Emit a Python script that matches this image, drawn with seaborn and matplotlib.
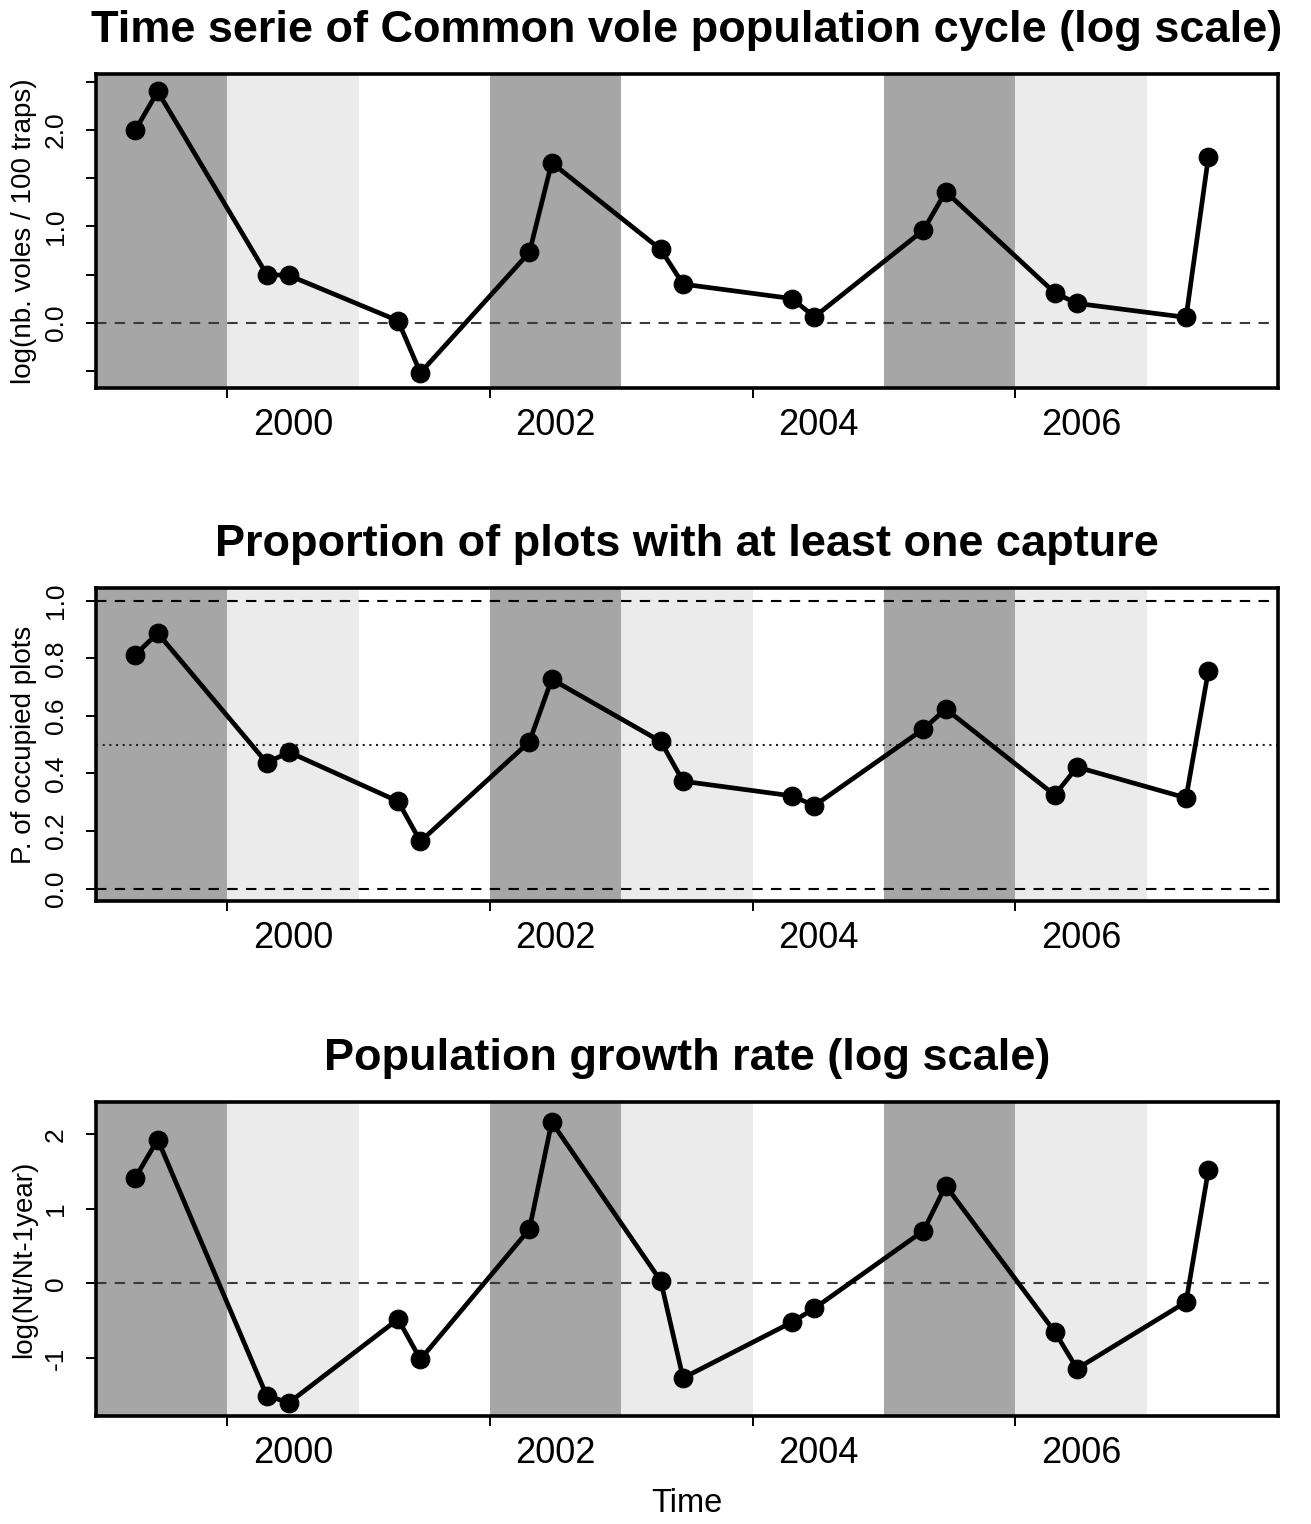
import matplotlib
matplotlib.use("Agg")
import matplotlib.pyplot as plt
import seaborn as sns
import pandas as pd

# ---------------- data ----------------
dates = [1999.30, 1999.47, 2000.30, 2000.47, 2001.30, 2001.47, 2002.30, 2002.47,
         2003.30, 2003.47, 2004.30, 2004.47, 2005.30, 2005.47, 2006.30, 2006.47,
         2007.30, 2007.47]
abundance = [2.00, 2.40, 0.50, 0.49, 0.02, -0.52, 0.73, 1.66, 0.76, 0.40,
             0.25, 0.06, 0.96, 1.36, 0.31, 0.20, 0.055, 1.72]
occupancy = [0.813, 0.887, 0.437, 0.474, 0.303, 0.164, 0.510, 0.727, 0.511, 0.373,
             0.322, 0.288, 0.554, 0.624, 0.325, 0.422, 0.315, 0.757]
growth = [1.42, 1.93, -1.51, -1.60, -0.48, -1.02, 0.727, 2.165, 0.033, -1.27,
          -0.52, -0.335, 0.705, 1.31, -0.65, -1.145, -0.25, 1.52]

titles = ["Time serie of Common vole population cycle (log scale)",
          "Proportion of plots with at least one capture",
          "Population growth rate (log scale)"]
ylabels = ["log(nb. voles / 100 traps)", "P. of occupied plots", "log(Nt/Nt-1year)"]

dark_bands = [(1998.5, 2000.0), (2002.0, 2003.0), (2005.0, 2006.0)]
light_bands_p1 = [(2000.0, 2001.0), (2006.0, 2007.0)]
light_bands_p23 = [(2000.0, 2001.0), (2003.0, 2004.0), (2006.0, 2007.0)]

year_ticks = [2000, 2002, 2004, 2006]
year_label_pos = [2000.5, 2002.5, 2004.5, 2006.5]
year_labels = ["2000", "2002", "2004", "2006"]

p1_yticks = [-0.5, 0.0, 0.5, 1.0, 1.5, 2.0, 2.5]
p1_ylabels = ["", "0.0", "", "1.0", "", "2.0", ""]
p2_yticks = [0.0, 0.2, 0.4, 0.6, 0.8, 1.0]
p2_ylabels = ["0.0", "0.2", "0.4", "0.6", "0.8", "1.0"]
p3_yticks = [-1, 0, 1, 2]
p3_ylabels = ["-1", "0", "1", "2"]

ylims = [(-0.678, 2.581), (-0.043, 1.044), (-1.78, 2.434)]
xlim = (1999.0, 2008.0)

# ---------------- style ----------------
sns.set_style("white")
plt.rcParams["font.family"] = ["Liberation Sans", "DejaVu Sans"]

W, H = 1311, 1524
fig = plt.figure(figsize=(W / 100, H / 100), dpi=100)

boxes_px = [(74, 388), (588, 901), (1102, 1416)]
left_px, right_px = 96, 1278

DARK = "#a6a6a6"
LIGHT = "#ebebeb"

series = [abundance, occupancy, growth]
ytick_sets = [(p1_yticks, p1_ylabels), (p2_yticks, p2_ylabels), (p3_yticks, p3_ylabels)]

for i in range(3):
    top, bot = boxes_px[i]
    ax = fig.add_axes([left_px / W, 1 - bot / H, (right_px - left_px) / W, (bot - top) / H])
    ax.set_facecolor("white")

    for a, b in dark_bands:
        ax.axvspan(a, b, color=DARK, lw=0, zorder=0)
    for a, b in (light_bands_p1 if i == 0 else light_bands_p23):
        ax.axvspan(a, b, color=LIGHT, lw=0, zorder=0)

    if i == 1:
        ax.axhline(0.0, color="black", lw=1.5, ls=(0, (5, 4)), zorder=1)
        ax.axhline(1.0, color="black", lw=1.5, ls=(0, (5, 4)), zorder=1)
        ax.axhline(0.5, color="#222222", lw=1.5, ls=(0, (1, 2.2)), zorder=1)
    else:
        ax.axhline(0.0, color="#3a3a3a", lw=1.5, ls=(0, (5, 4)), zorder=1)

    df = pd.DataFrame({"date": dates, "value": series[i]})
    sns.lineplot(data=df, x="date", y="value", ax=ax, color="black", lw=3.4,
                 marker="o", markersize=13.5, markeredgecolor="black",
                 markerfacecolor="black", zorder=3, sort=True)

    ax.set_xlim(*xlim)
    ax.set_ylim(*ylims[i])

    # x axis: ticks at year starts, labels at mid-year
    ax.set_xticks(year_ticks)
    ax.set_xticklabels([])
    ax.set_xticks(year_label_pos, minor=True)
    ax.set_xticklabels(year_labels, minor=True)
    ax.tick_params(axis="x", which="major", direction="out", length=7.5, width=1.4,
                   color="black", bottom=True)
    ax.tick_params(axis="x", which="minor", length=0, pad=14.5, labelsize=26,
                   labelcolor="black", bottom=True)

    yt, yl = ytick_sets[i]
    ax.set_yticks(yt)
    ax.set_yticklabels(yl)
    ax.tick_params(axis="y", which="major", direction="out", length=7.5, width=1.4,
                   color="black", left=True, labelsize=19, pad=13, labelrotation=90,
                   labelcolor="black")
    for lab in ax.get_yticklabels():
        lab.set_va("center")

    for sp in ax.spines.values():
        sp.set_visible(True)
        sp.set_color("black")
        sp.set_linewidth(2.6)
        sp.set_zorder(5)

    ax.set_title(titles[i], fontsize=32.5, fontweight="bold", pad=23, color="black")
    ax.set_ylabel(ylabels[i], fontsize=20, color="black")
    ax.yaxis.set_label_coords(-0.05, 0.5)

    if i == 2:
        ax.set_xlabel("Time", fontsize=23.5, color="black")
        ax.xaxis.set_label_coords(0.5, -0.228)
    else:
        ax.set_xlabel("")

fig.savefig("out.png", dpi=100, facecolor="white")
